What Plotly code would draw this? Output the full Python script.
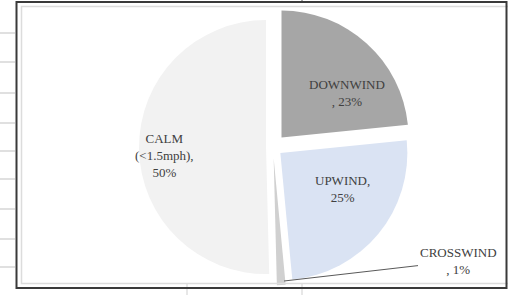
import plotly.graph_objects as go

# ---- data ----
labels = ["DOWNWIND", "UPWIND", "CROSSWIND", "CALM (<1.5mph)"]
values = [23.4, 25.1, 1.1, 50.4]
colors = ["#a6a6a6", "#dae3f3", "#d0d0d0", "#f2f2f2"]
pulls = [0.10, 0.075, 0.09, 0.055]
total = sum(values)
pct = [round(v / total * 100) for v in values]
label_texts = [
    "DOWNWIND<br>, %d%%" % pct[0],
    "UPWIND,<br>%d%%" % pct[1],
    "CROSSWIND<br>, %d%%" % pct[2],
    "CALM<br>(&lt;1.5mph),<br>%d%%" % pct[3],
]
# label block centres (pixels from top-left)
label_pos = [(347, 93), (342, 189), (458, 261), (164, 155)]

W, H = 508, 295


def px(x):
    return x / W


def py(y):
    return 1 - y / H


# pie: centre ~ (273,147), radius ~127 px
r = 127
maxpull = max(pulls)
half = r * (1 + maxpull)
cx, cy = 273, 147

fig = go.Figure()
fig.add_trace(go.Pie(
    labels=labels,
    values=values,
    sort=False,
    direction="clockwise",
    rotation=0,
    pull=pulls,
    marker=dict(colors=colors, line=dict(width=0)),
    textinfo="none",
    domain=dict(x=[px(cx - half), px(cx + half)], y=[py(cy + half), py(cy - half)]),
    hoverinfo="label+percent",
    showlegend=False,
))

shapes = []
# spreadsheet gridlines left of chart
for gy in [33, 62, 93, 123, 151, 179, 209, 239, 267]:
    shapes.append(dict(type="line", xref="paper", yref="paper",
                       x0=0, x1=px(15), y0=py(gy), y1=py(gy),
                       line=dict(color="#d6d6d6", width=1.5)))
# gridlines below / above chart
for gx in [187, 302]:
    shapes.append(dict(type="line", xref="paper", yref="paper",
                       x0=px(gx), x1=px(gx), y0=py(284), y1=py(295),
                       line=dict(color="#cfcfcf", width=1)))
shapes.append(dict(type="line", xref="paper", yref="paper",
                   x0=px(302), x1=px(302), y0=py(0), y1=py(3),
                   line=dict(color="#555555", width=1)))
# inner light chart border
shapes.append(dict(type="rect", xref="paper", yref="paper",
                   x0=px(21.5), x1=px(509), y0=py(283.5), y1=py(6.5),
                   line=dict(color="#dcdcdc", width=1.5)))
# outer dark frame
shapes.append(dict(type="rect", xref="paper", yref="paper",
                   x0=px(16.5), x1=px(506.5), y0=py(288), y1=py(2),
                   line=dict(color="#3a3a3a", width=2)))

font = dict(family="Liberation Serif", size=13, color="#404040")
annotations = []
for i, (txt, (lx, ly)) in enumerate(zip(label_texts, label_pos)):
    if labels[i] == "CROSSWIND":
        # leader line from label to the small slice
        annotations.append(dict(
            xref="paper", yref="paper", x=px(284), y=py(281),
            ax=lx - 284, ay=ly - 281,
            text=txt, showarrow=True, arrowhead=0, arrowwidth=1,
            arrowcolor="#595959", standoff=0, font=font,
        ))
    else:
        annotations.append(dict(
            xref="paper", yref="paper", x=px(lx), y=py(ly),
            xanchor="center", yanchor="middle",
            text=txt, showarrow=False, font=font,
        ))

fig.update_layout(
    width=W, height=H,
    margin=dict(l=0, r=0, t=0, b=0),
    paper_bgcolor="white",
    plot_bgcolor="white",
    shapes=shapes,
    annotations=annotations,
    showlegend=False,
)

fig.write_html(
    "out.html",
    config={"displayModeBar": False},
    post_script="document.body.style.margin='0';document.body.style.overflow='hidden';",
)
